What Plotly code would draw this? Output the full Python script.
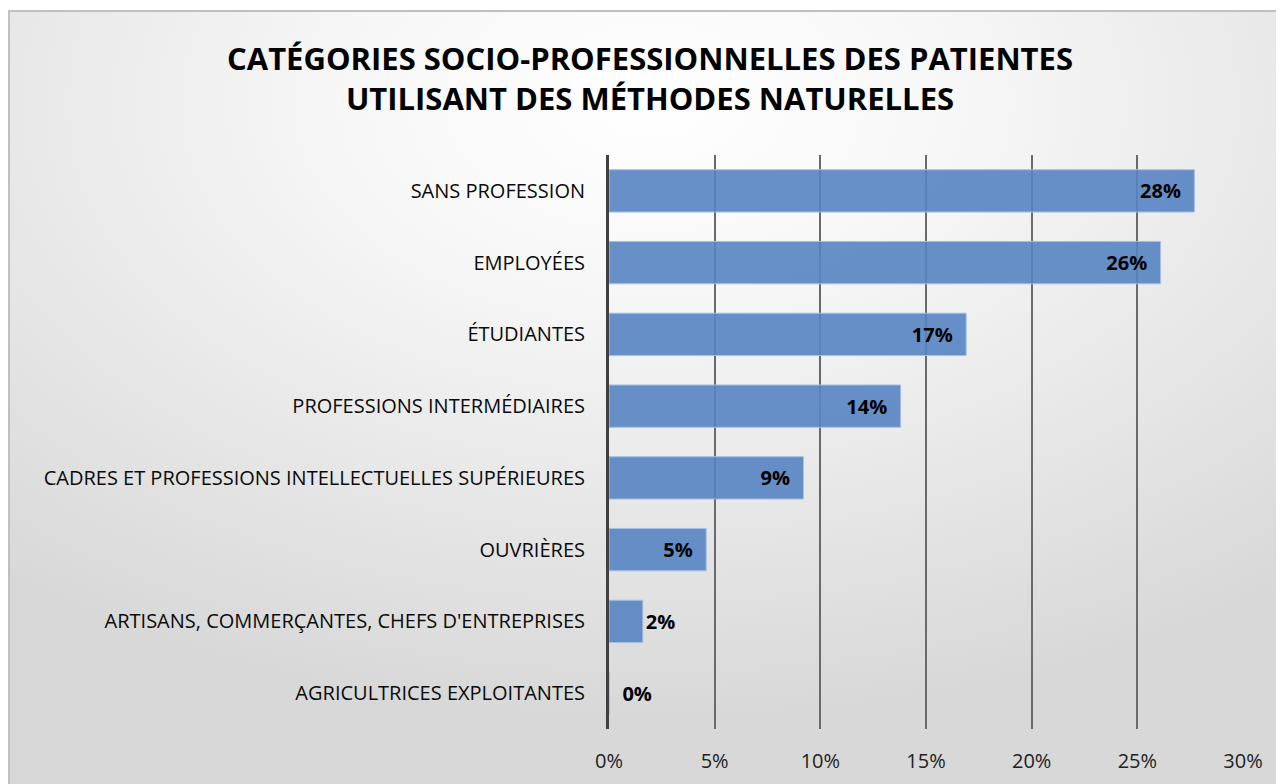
import base64
import plotly.graph_objects as go

categories = [
    "SANS PROFESSION",
    "EMPLOYÉES",
    "ÉTUDIANTES",
    "PROFESSIONS INTERMÉDIAIRES",
    "CADRES ET PROFESSIONS INTELLECTUELLES SUPÉRIEURES",
    "OUVRIÈRES",
    "ARTISANS, COMMERÇANTES, CHEFS D'ENTREPRISES",
    "AGRICULTRICES EXPLOITANTES",
]
values = [0.277, 0.261, 0.169, 0.138, 0.092, 0.046, 0.016, 0.0]
x_ticks = [0, 0.05, 0.10, 0.15, 0.20, 0.25, 0.30]
x_tick_labels = ["0%", "5%", "10%", "15%", "20%", "25%", "30%"]
title_text = "CATÉGORIES SOCIO-PROFESSIONNELLES DES PATIENTES<br>UTILISANT DES MÉTHODES NATURELLES"

FONT = "Open Sans"
NB = "\u00a0"

W, H = 1284, 784
# figure is drawn 8px inside the page (body margin)
ML, MR, MT, MB = 601, 49, 147, 63
PW, PH = W - ML - MR, H - MT - MB

def px_to_paper_x(px):
    return (px - ML) / PW

def px_to_paper_y(py):
    return (H - MB - py) / PH

svg = """<svg xmlns='http://www.w3.org/2000/svg' width='1290' height='790' viewBox='0 0 1290 790'>
<defs><radialGradient id='g' cx='0.5' cy='0.12' r='0.78' gradientUnits='objectBoundingBox'>
<stop offset='0' stop-color='#ffffff'/><stop offset='0.3' stop-color='#f7f7f7'/>
<stop offset='1' stop-color='#d8d8d8'/></radialGradient></defs>
<rect width='1290' height='790' fill='url(#g)'/></svg>"""
svg_uri = "data:image/svg+xml;base64," + base64.b64encode(svg.encode()).decode()

text_pos = ["inside"] * 6 + ["outside"] * 2
templates = ["%{x:.0%}" + NB * 2] * 6 + ["%{x:.0%}", NB * 2 + "%{x:.0%}"]

label_font = dict(family=FONT, size=20, color="#000000", weight="bold")

fig = go.Figure()
fig.add_trace(go.Bar(
    y=categories,
    x=values,
    orientation="h",
    marker=dict(color="rgba(86,132,195,0.9)", line=dict(color="#a6bfe2", width=1)),
    texttemplate=templates,
    textposition=text_pos,
    insidetextanchor="end",
    textfont=label_font,
    outsidetextfont=label_font,
    insidetextfont=label_font,
    constraintext="none",
    cliponaxis=False,
    hoverinfo="skip",
))

fig.update_layout(
    width=W, height=H,
    margin=dict(l=ML, r=MR, t=MT, b=MB),
    paper_bgcolor="#ffffff",
    plot_bgcolor="rgba(0,0,0,0)",
    bargap=0.41,
    showlegend=False,
    title=dict(
        text=title_text,
        x=0.5, xref="container", xanchor="center",
        y=1 - 62 / H, yanchor="middle", yref="container",
        font=dict(family=FONT, size=31, color="#000000", weight="bold"),
    ),
    xaxis=dict(
        range=[0, 0.30],
        tickvals=x_ticks,
        ticktext=x_tick_labels,
        showgrid=True,
        gridcolor="#6a6a6a",
        gridwidth=1.5,
        zeroline=False,
        showline=False,
        ticks="",
        ticklen=0,
        ticklabelstandoff=18,
        tickfont=dict(family=FONT, size=20, color="#222222"),
        fixedrange=True,
    ),
    yaxis=dict(
        autorange="reversed",
        showgrid=False,
        showline=True,
        linecolor="#404040",
        linewidth=3,
        ticks="",
        ticklabelstandoff=17,
        tickfont=dict(family=FONT, size=20, color="#0a0a0a"),
        fixedrange=True,
    ),
    images=[dict(
        source=svg_uri,
        xref="paper", yref="paper",
        x=px_to_paper_x(0), y=px_to_paper_y(2),
        sizex=px_to_paper_x(1290) - px_to_paper_x(0),
        sizey=px_to_paper_y(2) - px_to_paper_y(792),
        xanchor="left", yanchor="top",
        sizing="stretch", layer="below",
    )],
    shapes=[dict(
        type="rect", xref="paper", yref="paper",
        x0=px_to_paper_x(1), x1=px_to_paper_x(1300),
        y0=px_to_paper_y(800), y1=px_to_paper_y(3),
        line=dict(color="#c0c0c0", width=2),
        fillcolor="rgba(0,0,0,0)", layer="below",
    )],
)

fig.write_html("out.html")
